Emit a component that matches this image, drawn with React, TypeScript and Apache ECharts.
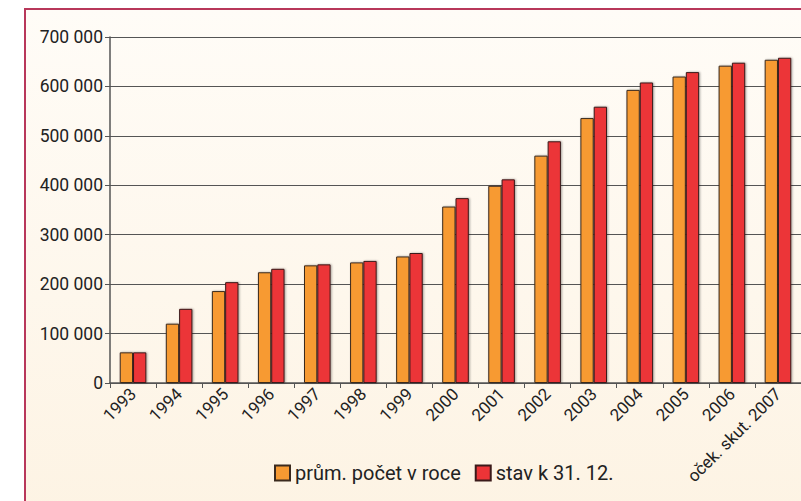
import React, { useEffect, useRef } from "react";
import * as echarts from "echarts";

const categories = [
  "1993", "1994", "1995", "1996", "1997", "1998", "1999", "2000",
  "2001", "2002", "2003", "2004", "2005", "2006", "oček. skut. 2007",
];
const avgCount = [
  62000, 120000, 186000, 224000, 238000, 244000, 256000, 357000,
  399000, 460000, 536000, 593000, 620000, 642000, 654000,
];
const yearEnd = [
  62000, 150000, 204000, 231000, 240000, 247000, 263000, 374000,
  412000, 489000, 559000, 608000, 629000, 648000, 658000,
];
const seriesNames = ["prům. počet v roce", "stav k 31. 12."];
const FONT = "Roboto, 'Liberation Sans', sans-serif";

export default function App() {
  const ref = useRef<HTMLDivElement>(null);
  useEffect(() => {
    if (!ref.current) return;
    const chart = echarts.init(ref.current, null, { renderer: "svg" });
    chart.setOption({
      animation: false,
      textStyle: { fontFamily: FONT },
      graphic: [
        {
          type: "rect",
          z: -10,
          shape: { x: 25, y: 9, width: 800, height: 520 },
          style: {
            fill: new echarts.graphic.LinearGradient(0, 0, 0, 1, [
              { offset: 0, color: "#fffcf7" },
              { offset: 1, color: "#fdf3e3" },
            ]),
            stroke: "#b8375a",
            lineWidth: 2,
          },
        },
      ],
      grid: { left: 110, top: 37, height: 346, width: 696 },
      legend: {
        left: 269,
        top: 458,
        icon: "rect",
        itemWidth: 15,
        itemHeight: 15,
        itemGap: 14,
        textStyle: { fontSize: 20, color: "#222", fontFamily: FONT },
        data: seriesNames,
      },
      xAxis: {
        type: "category",
        data: categories,
        axisLine: { lineStyle: { color: "#555", width: 1.5 } },
        axisTick: { show: true, length: 5, lineStyle: { color: "#555" } },
        axisLabel: {
          interval: 0,
          rotate: 45,
          fontSize: 17,
          color: "#222",
          margin: 8,
          fontFamily: FONT,
        },
      },
      yAxis: {
        type: "value",
        min: 0,
        max: 700000,
        interval: 100000,
        axisLine: { show: true, lineStyle: { color: "#555", width: 1.5 } },
        axisTick: { show: true, length: 5, lineStyle: { color: "#555" } },
        splitLine: { lineStyle: { color: "#555", width: 1 } },
        axisLabel: {
          fontSize: 17.5,
          color: "#222",
          margin: 7,
          fontFamily: FONT,
          formatter: (v: number) =>
            String(v).replace(/\B(?=(\d{3})+(?!\d))/g, " "),
        },
      },
      series: [
        {
          name: seriesNames[0],
          type: "bar",
          data: avgCount,
          barWidth: 13.3,
          barGap: "0%",
          itemStyle: {
            color: "#f79a32",
            borderColor: "#3b2a1e",
            borderWidth: 1,
            shadowColor: "rgba(0,0,0,0.35)",
            shadowBlur: 2,
            shadowOffsetX: 1,
            shadowOffsetY: 0,
          },
        },
        {
          name: seriesNames[1],
          type: "bar",
          data: yearEnd,
          barWidth: 13.3,
          barGap: "0%",
          itemStyle: {
            color: "#ec3437",
            borderColor: "#3b1a1a",
            borderWidth: 1,
            shadowColor: "rgba(0,0,0,0.35)",
            shadowBlur: 2,
            shadowOffsetX: 1,
            shadowOffsetY: 0,
          },
        },
      ],
    });
    return () => chart.dispose();
  }, []);
  return (
    <div
      ref={ref}
      style={{ position: "absolute", left: 0, top: 0, width: 801, height: 501 }}
    />
  );
}
